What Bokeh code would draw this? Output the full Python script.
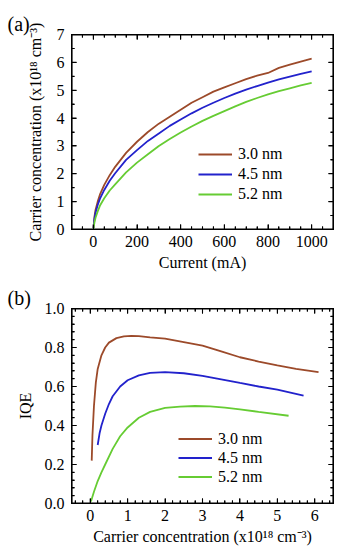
from bokeh.plotting import figure
from bokeh.layouts import column
from bokeh.models import (LinearAxis, SingleIntervalTicker, PrintfTickFormatter,
                          Range1d, Legend, LegendItem, CustomJSTickFormatter)
from bokeh.embed import file_html
from bokeh.resources import INLINE

# ---------------- data: panel (a) ----------------
current_mA = [0, 5, 10, 20, 30, 50, 75, 100, 150, 200, 250, 300, 350, 400, 450,
              500, 550, 600, 650, 700, 750, 800, 850, 900, 950, 1000]
n_30 = [0, 0.45, 0.7, 1.0, 1.25, 1.6, 1.95, 2.25, 2.75, 3.15, 3.5, 3.8, 4.05, 4.3,
        4.55, 4.75, 4.95, 5.1, 5.25, 5.4, 5.52, 5.62, 5.8, 5.92, 6.03, 6.13]
n_45 = [0, 0.38, 0.6, 0.88, 1.1, 1.42, 1.75, 2.02, 2.5, 2.85, 3.18, 3.45, 3.72, 3.95,
        4.17, 4.37, 4.55, 4.72, 4.88, 5.02, 5.15, 5.27, 5.39, 5.49, 5.59, 5.68]
n_52 = [0, 0.25, 0.42, 0.65, 0.85, 1.12, 1.4, 1.62, 2.05, 2.4, 2.7, 3.0, 3.25, 3.48,
        3.7, 3.9, 4.08, 4.25, 4.42, 4.58, 4.72, 4.85, 4.97, 5.07, 5.17, 5.26]

# ---------------- data: panel (b) ----------------
conc_30 = [0.04, 0.06, 0.1, 0.15, 0.2, 0.3, 0.4, 0.5, 0.7, 0.9, 1.1, 1.3, 1.6,
           2.0, 2.5, 3.0, 3.5, 4.0, 4.5, 5.0, 5.5, 6.1]
iqe_30 = [0.22, 0.35, 0.5, 0.62, 0.69, 0.76, 0.80, 0.825, 0.848, 0.857, 0.86, 0.858,
          0.852, 0.845, 0.828, 0.81, 0.78, 0.75, 0.728, 0.708, 0.69, 0.674]
conc_45 = [0.2, 0.25, 0.3, 0.4, 0.5, 0.6, 0.8, 1.0, 1.3, 1.6, 2.0, 2.5, 3.0, 3.5,
           4.0, 4.5, 5.0, 5.7]
iqe_45 = [0.30, 0.36, 0.40, 0.46, 0.51, 0.55, 0.60, 0.632, 0.657, 0.67, 0.674, 0.668,
          0.655, 0.637, 0.618, 0.60, 0.584, 0.553]
conc_52 = [0.02, 0.1, 0.2, 0.3, 0.4, 0.6, 0.8, 1.0, 1.3, 1.6, 2.0, 2.4, 2.8, 3.2,
           3.6, 4.0, 4.5, 5.3]
iqe_52 = [0.01, 0.06, 0.115, 0.16, 0.2, 0.28, 0.345, 0.39, 0.44, 0.47, 0.49, 0.497,
          0.5, 0.498, 0.492, 0.483, 0.47, 0.45]

labels = ["3.0 nm", "4.5 nm", "5.2 nm"]
colors = ["#9C4A2A", "#2222CC", "#66CC33"]

FONT = "Liberation Serif, serif"
FRAME_W, FRAME_H = 262, 195  # frame size in px (for tick lengths)


def mirror_axis(interval, minor):
    return LinearAxis(ticker=SingleIntervalTicker(interval=interval, num_minor_ticks=minor),
                      formatter=CustomJSTickFormatter(code="return ''"),
                      major_label_text_font_size="1px", major_label_standoff=0,
                      major_tick_in=5, major_tick_out=0, minor_tick_in=3,
                      minor_tick_out=0, axis_line_color="black",
                      major_tick_line_color="black", minor_tick_line_color="black")


def frame_and_ticks(p, xr, yr, xint, xminor, yint, yminor):
    """Box and inward ticks on all four sides, drawn as glyphs."""
    x0, x1 = xr
    y0, y1 = yr
    dx = (x1 - x0) / FRAME_W
    dy = (y1 - y0) / FRAME_H
    p.rect(x=[(x0 + x1) / 2], y=[(y0 + y1) / 2], width=[x1 - x0], height=[y1 - y0],
           fill_alpha=0, line_color="black", line_width=2.2)
    for step, n_minor, is_x in ((xint, xminor, True), (yint, yminor, False)):
        lo, hi = (x0, x1) if is_x else (y0, y1)
        sub = step / n_minor
        k0 = int(round(lo / sub)) - 1
        k1 = int(round(hi / sub)) + 1
        for k in range(k0, k1 + 1):
            t = k * sub
            if t < lo - 1e-9 or t > hi + 1e-9:
                continue
            major = (k % n_minor == 0)
            ln = 5 if major else 3
            if is_x:
                p.segment(x0=[t, t], y0=[y0, y1], x1=[t, t],
                          y1=[y0 + ln * dy, y1 - ln * dy],
                          line_color="black", line_width=1.1)
            else:
                p.segment(x0=[x0, x1], y0=[t, t], x1=[x0 + ln * dx, x1 - ln * dx],
                          y1=[t, t], line_color="black", line_width=1.1)


def style_axes(p, xint, xminor, yint, yminor, xlabel, ylabel, ylabel_standoff, yfmt=None):
    bottom = p.below[0]
    left = p.left[0]
    bottom.ticker = SingleIntervalTicker(interval=xint, num_minor_ticks=xminor)
    left.ticker = SingleIntervalTicker(interval=yint, num_minor_ticks=yminor)
    if yfmt:
        left.formatter = PrintfTickFormatter(format=yfmt)
    for ax in (bottom, left):
        ax.major_tick_in = 5
        ax.major_tick_out = 0
        ax.minor_tick_in = 3
        ax.minor_tick_out = 0
        ax.axis_line_color = "black"
        ax.major_tick_line_color = "black"
        ax.minor_tick_line_color = "black"
        ax.major_label_text_font = FONT
        ax.major_label_text_font_size = "16px"
        ax.major_label_text_color = "black"
        ax.axis_label_text_font = FONT
        ax.axis_label_text_font_size = "16px"
        ax.axis_label_text_font_style = "normal"
        ax.axis_label_text_color = "black"
    bottom.major_label_standoff = 6
    left.major_label_standoff = 7
    bottom.axis_label = xlabel
    bottom.axis_label_standoff = 4
    left.axis_label = ylabel
    left.axis_label_standoff = ylabel_standoff
    p.add_layout(mirror_axis(xint, xminor), "above")
    p.add_layout(mirror_axis(yint, yminor), "right")
    p.grid.visible = False
    p.outline_line_color = "black"


def make_legend(p, renderers, loc, row_h):
    items = [LegendItem(label=l, renderers=[r]) for l, r in zip(labels, renderers)]
    lg = Legend(items=items, location=loc, glyph_width=34, glyph_height=row_h,
                label_height=row_h, label_standoff=6, spacing=0, padding=0, margin=0,
                border_line_alpha=0, background_fill_alpha=0,
                label_text_font=FONT, label_text_font_size="16px",
                label_text_color="black")
    p.add_layout(lg)


def panel_title(p, text):
    p.title.text = text
    p.title.text_font = FONT
    p.title.text_font_size = "20px"
    p.title.text_font_style = "normal"
    p.title.text_color = "black"
    p.title.align = "left"
    p.title.offset = -64
    p.title.standoff = 0


# ---------------- panel (a) ----------------
xa, ya = (-100, 1100), (0, 7)
pa = figure(width=334, height=275, output_backend="svg", toolbar_location=None,
            x_range=Range1d(*xa), y_range=Range1d(*ya),
            min_border_left=71, min_border_right=1, min_border_top=34,
            min_border_bottom=46)
style_axes(pa, 200, 4, 1, 2, "Current (mA)", "Carrier concentration (x10¹⁸ cm⁻³)", 10)
frame_and_ticks(pa, xa, ya, 200, 4, 1, 2)
ra = []
for ys, c in zip([n_30, n_45, n_52], colors):
    ra.append(pa.line(current_mA, ys, line_color=c, line_width=1.8))
make_legend(pa, ra, (127, 25), 20)
panel_title(pa, "(a)")

# ---------------- panel (b) ----------------
xb, yb = (-0.5, 6.5), (0, 1.0)
pb = figure(width=334, height=274, output_backend="svg", toolbar_location=None,
            x_range=Range1d(*xb), y_range=Range1d(*yb),
            min_border_left=71, min_border_right=1, min_border_top=33,
            min_border_bottom=46)
style_axes(pb, 1, 5, 0.2, 5, "Carrier concentration (x10¹⁸ cm⁻³)", "IQE", 8, "%.1f")
frame_and_ticks(pb, xb, yb, 1, 5, 0.2, 5)
rb = []
for xs, ys, c in zip([conc_30, conc_45, conc_52], [iqe_30, iqe_45, iqe_52], colors):
    rb.append(pb.line(xs, ys, line_color=c, line_width=1.8))
make_legend(pb, rb, (107, 17), 19)
panel_title(pb, "(b)")

layout = column(pa, pb, spacing=0)
open("out.html", "w").write(file_html(layout, INLINE))
